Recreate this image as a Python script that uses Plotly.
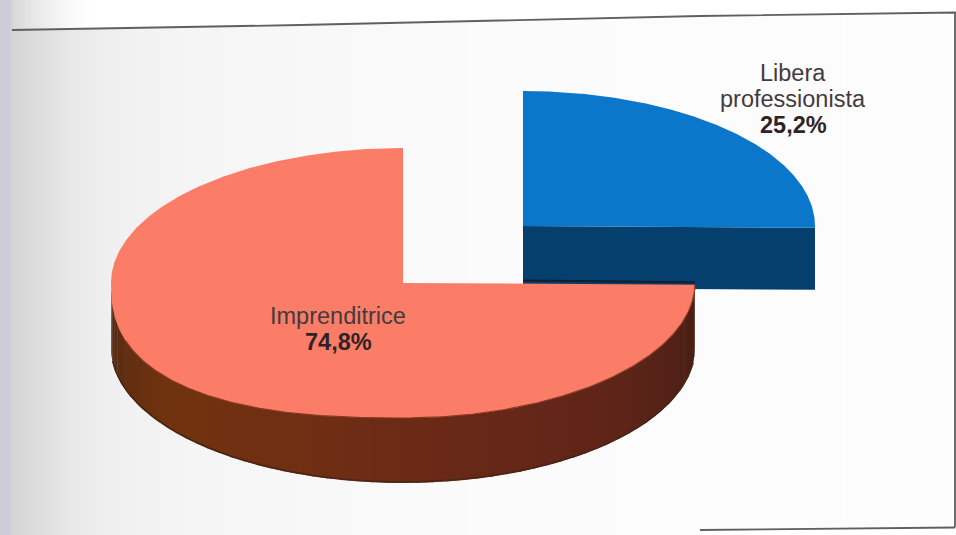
import numpy as np
import plotly.graph_objects as go

# Survey split shown by the pie
categories = ["Imprenditrice", "Libera professionista"]
shares = [74.8, 25.2]
label_lines = [["Imprenditrice"], ["Libera", "professionista"]]

TOP_COLORS = ["#fb7d68", "#0a77ca"]
BLUE_WALL = "#053f6e"
RX, RY = 292, 135
DEPTH = [65, 62]
CENTERS = [(403, 283), (523, 226)]
W, H = 956, 535


def arc(center, start_deg, end_deg, dy=0, n=240):
    t = np.radians(np.linspace(start_deg, end_deg, n))
    return center[0] + RX * np.cos(t), center[1] + dy - RY * np.sin(t)


def rounded_rim(center, start_deg, end_deg, n=480):
    # Top rim of the large slice: the lower-left quadrant is fuller than an ellipse
    t = np.radians(np.linspace(start_deg, end_deg, n))
    c, s = np.cos(t), np.sin(t)
    lower_left = (c < 0) & (s < 0)
    cx = np.where(lower_left, -np.abs(c) ** 0.8, c)
    sy = np.where(lower_left, -np.abs(s) ** 0.8, s)
    return center[0] + RX * cx, center[1] - RY * sy


def mix(a, b, f):
    return "rgb(%d,%d,%d)" % tuple(a[i] + (b[i] - a[i]) * f for i in range(3))


def polygon(x, y, color):
    return go.Scatter(x=list(x), y=list(y), mode="lines", fill="toself",
                      fillcolor=color, line=dict(width=0), hoverinfo="skip",
                      showlegend=False)


def stroke(x, y, color, width):
    return go.Scatter(x=list(x), y=list(y), mode="lines",
                      line=dict(color=color, width=width), hoverinfo="skip",
                      showlegend=False)


fig = go.Figure()

# Paper tone: grey towards the binding on the left, near white further right
paper_x = np.arange(0, W + 4, 4)
paper_tone = np.interp(paper_x, [0, 10, 14, 40, 70, 110, 200, 320, 500, 956],
                       [212, 212, 214, 222, 232, 240, 245, 248, 251, 253])
fig.add_trace(go.Heatmap(x=paper_x, y=[0, H], z=[paper_tone, paper_tone],
                         zmin=200, zmax=255, zsmooth="best", showscale=False,
                         colorscale=[[0, "rgb(200,200,200)"], [1, "rgb(255,255,255)"]],
                         hoverinfo="skip"))
fig.add_trace(polygon([0, 11, 11, 0], [0, 0, H, H], "rgba(200,200,222,0.6)"))


def top_edge(x):
    return np.interp(x, [12, 300, 700, 955], [30, 25, 16, 12.5])


# Page outside the printed frame, fading in over the grey margin
fade_edges = np.arange(14, 92, 4)
for x0, x1 in zip(fade_edges[:-1], fade_edges[1:]):
    alpha = round(0.1 + 0.9 * (x0 - 14) / (fade_edges[-1] - 14), 3)
    fig.add_trace(polygon([x0, x1, x1, x0], [0, 0, top_edge(x1), top_edge(x0)],
                          f"rgba(255,255,255,{alpha})"))
last = fade_edges[-1]
fig.add_trace(polygon([last, W, W, last], [0, 0, top_edge(W), top_edge(last)], "#ffffff"))
fig.add_trace(polygon([700, W, W, 700], [530, 527.5, H, H], "#ffffff"))

# Sweep of each slice follows its share: clockwise from 3 o'clock for the
# smaller one, the rest continues counter-clockwise from 12 o'clock
sweep_pink = 360 * shares[0] / sum(shares)
sweep_blue = 360 * shares[1] / sum(shares)
pink_start, pink_end = 90, 90 + sweep_pink
blue_start, blue_end = 90 - sweep_blue, 90

# Blue slice: front wall first, then its top
cx, cy = CENTERS[1]
ex, ey = arc(CENTERS[1], blue_start, blue_start, n=1)
fig.add_trace(polygon([cx, ex[0], ex[0], cx], [cy, ey[0], ey[0] + DEPTH[1], cy + DEPTH[1]], BLUE_WALL))
ax, ay = arc(CENTERS[1], blue_start, blue_end)
fig.add_trace(polygon([cx, *ax, cx], [cy, *ay, cy], TOP_COLORS[1]))

# Pink slice: rim drawn in short strips so the brown can shift around the curve
edges = np.linspace(180, pink_end, 61)
brown_stops = [(84, 42, 22), (112, 52, 14), (112, 46, 20), (104, 40, 24), (92, 36, 24), (70, 30, 22)]
for i in range(len(edges) - 1):
    f = i / (len(edges) - 2) * (len(brown_stops) - 1)
    k = min(int(f), len(brown_stops) - 2)
    sx, sy = arc(CENTERS[0], edges[i], edges[i + 1] + 0.4, n=8)
    bx, by = arc(CENTERS[0], edges[i + 1] + 0.4, edges[i], dy=DEPTH[0], n=8)
    fig.add_trace(polygon([*sx, *bx], [*sy, *by], mix(brown_stops[k], brown_stops[k + 1], f - k)))
lx, ly = arc(CENTERS[0], 186, pink_end - 6, dy=DEPTH[0] - 1)
fig.add_trace(stroke(lx, ly, "#4a2616", 1.6))

px, py = CENTERS[0]
ax, ay = rounded_rim(CENTERS[0], pink_start, pink_end)
# Thin shadow where the pink top meets the blue wall
fig.add_trace(stroke([CENTERS[1][0], ax[-1]], [py - 2.5, ay[-1] - 2.5], "#161c2c", 2))
fig.add_trace(polygon([px, *ax, px], [py, *ay, py], TOP_COLORS[0]))
# Darker red edge where the top meets the rim
front = (np.degrees(np.linspace(np.radians(pink_start), np.radians(pink_end), ax.size)) > 200)
fig.add_trace(stroke(ax[front], ay[front], "#8a3820", 1.2))

# Frame lines printed around the chart
fig.add_trace(stroke([12, 300, 700, 955, 955], [30, 25, 16, 12.5, 527.5], "#606064", 1.8))
fig.add_trace(stroke([700, 955], [530, 527.5], "#606064", 1.8))

# Labels: name lines in regular weight, share in bold with a decimal comma
label_anchor = [(338, 316), (793, 73)]
LINE_GAP = [26, 26]
FONT_SIZE = 23.5
for i, lines in enumerate(label_lines):
    x0, y0 = label_anchor[i]
    for j, text in enumerate(lines):
        fig.add_annotation(x=x0, y=y0 + j * LINE_GAP[i], text=text, showarrow=False,
                           font=dict(family="Liberation Sans", size=FONT_SIZE, color="#453a3e"))
    value_text = f"{shares[i]:.1f}".replace(".", ",") + "%"
    fig.add_annotation(x=x0, y=y0 + len(lines) * LINE_GAP[i], text=f"<b>{value_text}</b>",
                       showarrow=False,
                       font=dict(family="Liberation Sans", size=FONT_SIZE, color="#2e2426"))

fig.update_layout(width=W, height=H, margin=dict(l=0, r=0, t=0, b=0),
                  paper_bgcolor="#ffffff", plot_bgcolor="#ffffff", showlegend=False,
                  xaxis=dict(range=[0, W], visible=False, fixedrange=True),
                  yaxis=dict(range=[H, 0], visible=False, fixedrange=True))
fig.write_html("out.html", config={"displayModeBar": False})
